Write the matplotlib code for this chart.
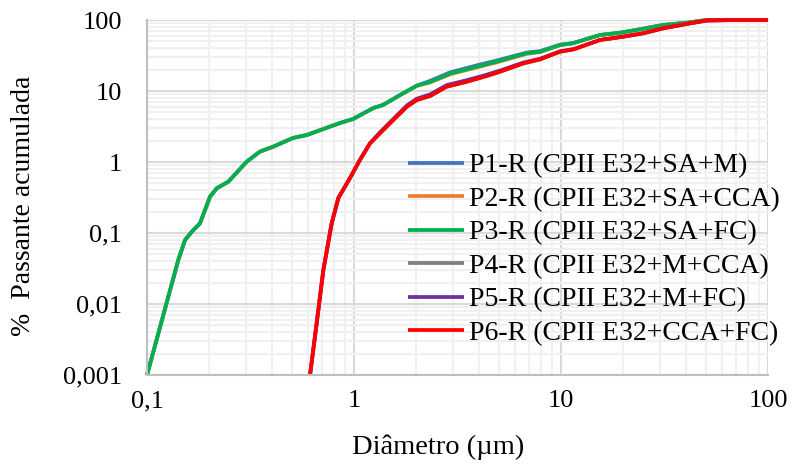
import matplotlib
matplotlib.use("Agg")
import matplotlib.pyplot as plt
from matplotlib.ticker import LogLocator, NullFormatter

plt.rcParams['font.family'] = ['Liberation Serif', 'DejaVu Serif']

# diameters (um)
xa = [0.1, 0.1416, 0.1526, 0.1644, 0.1803, 0.2016, 0.217, 0.247, 0.303, 0.351,
      0.406, 0.507, 0.591, 0.855, 0.989, 1.24, 1.38, 1.67, 2.01, 2.33, 2.91, 3.92,
      4.89, 6.83, 7.92, 9.89, 11.4, 15.4, 19.3, 24.1, 31.1, 40.6, 50.7, 70, 100]
xb = [0.613, 0.660, 0.711, 0.780, 0.840, 0.956, 1.068, 1.195, 1.335, 1.549, 1.80,
      2.01, 2.33, 2.80, 3.50, 4.38, 5.07, 6.58, 7.92, 9.89, 11.5, 15.4, 19.9, 24.9,
      31.1, 42.0, 50.7, 70, 100]

# cumulative passing (%)
p1 = [0.001, 0.0417, 0.0795, 0.104, 0.137, 0.325, 0.426, 0.528, 1.01, 1.40,
      1.64, 2.18, 2.40, 3.54, 4.03, 5.76, 6.35, 8.78, 11.9, 13.9, 18.3, 23.0,
      26.9, 34.8, 36.5, 44.9, 47.3, 61.5, 66.2, 74.0, 85.1, 91.6, 100, 100, 100]
p2 = [0.001, 0.0417, 0.0795, 0.104, 0.137, 0.325, 0.426, 0.528, 1.01, 1.40,
      1.64, 2.18, 2.40, 3.54, 4.03, 5.76, 6.35, 8.78, 11.8, 13.2, 17.2, 21.5,
      25.3, 33.4, 35.3, 44.2, 46.8, 61.3, 66.0, 74.0, 85.1, 91.6, 100, 100, 100]
p3 = [0.001, 0.0417, 0.0795, 0.104, 0.137, 0.325, 0.426, 0.528, 1.01, 1.40,
      1.64, 2.18, 2.40, 3.54, 4.03, 5.76, 6.35, 8.78, 11.9, 13.4, 17.6, 22.0,
      25.9, 34.0, 35.8, 44.5, 47.0, 61.5, 66.2, 74.0, 85.1, 91.6, 100, 100, 100]
p4 = [0.001, 0.00535, 0.0301, 0.137, 0.311, 0.595, 1.07, 1.83, 2.54, 3.91, 6.01,
      7.47, 8.5, 11.5, 13.5, 16.3, 18.7, 24.5, 27.9, 35.8, 38.6, 52.3, 58.2, 65.0,
      76.4, 89.9, 98.6, 100, 100]
p5 = [0.001, 0.00535, 0.0301, 0.137, 0.311, 0.595, 1.07, 1.85, 2.62, 4.05, 6.25,
      7.80, 8.95, 12.1, 14.2, 17.0, 19.4, 25.2, 28.5, 36.3, 38.9, 52.3, 58.2, 65.0,
      76.4, 89.9, 98.6, 100, 100]
p6 = [0.001, 0.00535, 0.0301, 0.137, 0.311, 0.595, 1.07, 1.83, 2.54, 3.91, 6.01,
      7.47, 8.5, 11.5, 13.5, 16.3, 18.7, 24.5, 27.9, 35.8, 38.6, 52.3, 58.2, 65.0,
      76.4, 89.9, 98.6, 100, 100]

labels = ["P1-R (CPII E32+SA+M)", "P2-R (CPII E32+SA+CCA)", "P3-R (CPII E32+SA+FC)",
          "P4-R (CPII E32+M+CCA)", "P5-R (CPII E32+M+FC)", "P6-R (CPII E32+CCA+FC)"]
colors = ["#4472C4", "#ED7D31", "#00B050", "#7F7F7F", "#7030A0", "#FF0000"]

yticks = [0.001, 0.01, 0.1, 1, 10, 100]
ytick_labels = ["0,001", "0,01", "0,1", "1", "10", "100"]
xticks = [0.1, 1, 10, 100]
xtick_labels = ["0,1", "1", "10", "100"]

fig = plt.figure(figsize=(7.93, 4.72), dpi=100)
ax = fig.add_axes([0.1854, 0.2055, 0.7831, 0.7521])

series = [(xa, p1), (xa, p2), (xa, p3), (xb, p4), (xb, p5), (xb, p6)]
for (x, y), lab, c in zip(series, labels, colors):
    ax.plot(x, y, color=c, lw=2.7, label=lab, clip_on=False,
            solid_joinstyle='round', solid_capstyle='butt')

ax.set_xscale('log')
ax.set_yscale('log')
ax.set_xlim(0.1, 100)
ax.set_ylim(0.001, 100)

ax.set_xticks(xticks, xtick_labels)
ax.set_yticks(yticks, ytick_labels)
ax.xaxis.set_minor_locator(LogLocator(base=10, subs=range(2, 10)))
ax.yaxis.set_minor_locator(LogLocator(base=10, subs=range(2, 10)))
ax.xaxis.set_minor_formatter(NullFormatter())
ax.yaxis.set_minor_formatter(NullFormatter())
ax.tick_params(which='both', length=0, labelsize=19)
ax.tick_params(axis='y', pad=18)
ax.tick_params(axis='x', pad=11)

ax.grid(True, which='major', color='#d9d9d9', lw=1.5)
ax.grid(True, which='minor', color='#f0f0f0', lw=1.5)
ax.set_axisbelow(True)

for s in ['top', 'right']:
    ax.spines[s].set_visible(False)
for s in ['left', 'bottom']:
    ax.spines[s].set_color('#bfbfbf')
    ax.spines[s].set_linewidth(1.5)

ax.set_xlabel("Diâmetro (µm)", fontsize=20.5)
ax.xaxis.set_label_coords(0.469, -0.203)
ax.xaxis.label.set_va('center')
ax.set_ylabel("%  Passante acumulada", fontsize=20)
ax.yaxis.set_label_coords(-0.1997, 0.476)
ax.yaxis.label.set_va('center')

ax.legend(loc='center left', bbox_to_anchor=(0.5145, 0.4714),
          bbox_transform=fig.transFigure, frameon=False, fontsize=20,
          borderpad=0, borderaxespad=0, handlelength=2.0, handletextpad=0.2,
          labelspacing=0.29)

fig.savefig("out.png", dpi=100)
